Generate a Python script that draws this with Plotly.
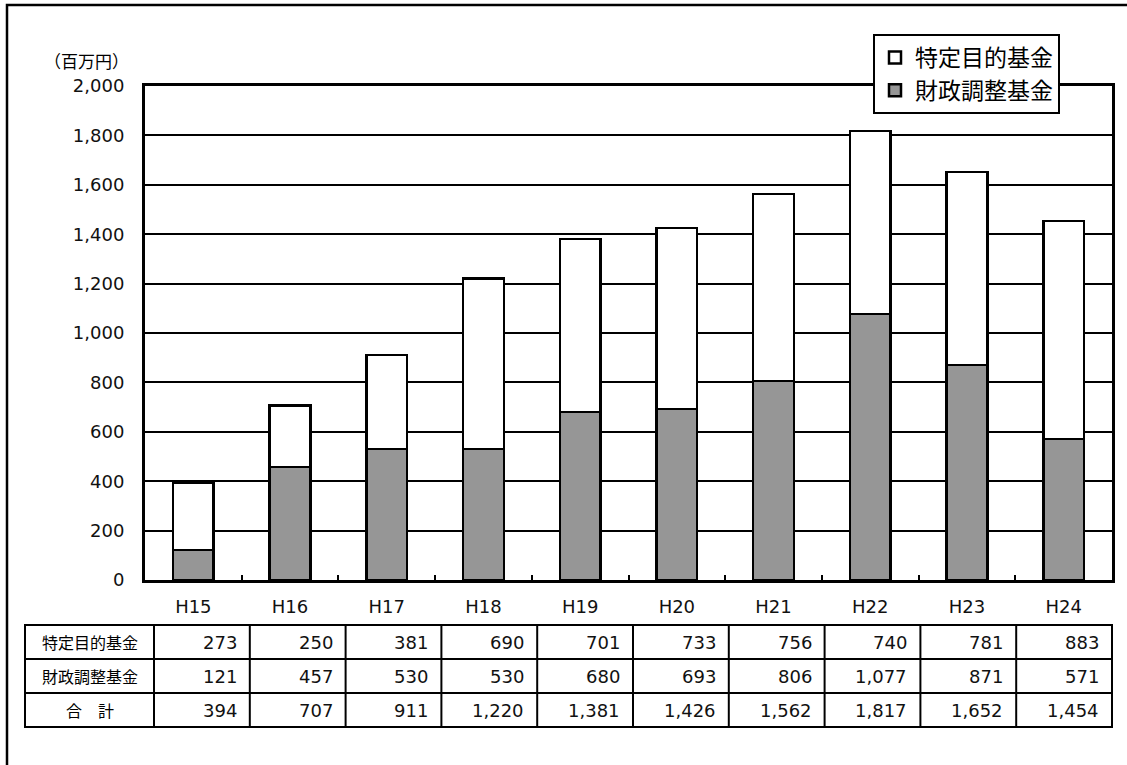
import plotly.graph_objects as go

categories = ["H15", "H16", "H17", "H18", "H19", "H20", "H21", "H22", "H23", "H24"]
tokutei = [273, 250, 381, 690, 701, 733, 756, 740, 781, 883]
zaisei = [121, 457, 530, 530, 680, 693, 806, 1077, 871, 571]
goukei = [394, 707, 911, 1220, 1381, 1426, 1562, 1817, 1652, 1454]
row_labels = ["特定目的基金", "財政調整基金", "合　計"]
y_ticks = [0, 200, 400, 600, 800, 1000, 1200, 1400, 1600, 1800, 2000]

W, H = 1127, 765
L, R, T, B = 145, 1112, 86, 580
FONT = "Noto Sans CJK JP"
NUMFONT = "DejaVu Sans"


def px(x):
    return (x - L) / (R - L)


def py(y):
    return (B - y) / (B - T)


fig = go.Figure()
fig.add_trace(go.Bar(
    x=categories, y=zaisei, name="財政調整基金",
    marker=dict(color="#969696", line=dict(color="black", width=2.5)),
))
fig.add_trace(go.Bar(
    x=categories, y=tokutei, name="特定目的基金",
    marker=dict(color="white", line=dict(color="black", width=2.5)),
))

shapes = []
annotations = []

# outer frame (only top/left visible)
shapes.append(dict(type="rect", xref="paper", yref="paper",
                   x0=px(7), x1=px(1140), y0=py(5), y1=py(780),
                   line=dict(color="black", width=2.5), fillcolor="rgba(0,0,0,0)", layer="below"))

# table
tx0, tx1 = 25, 154
tx_end = 1112
row_y = [625, 659, 693, 727]
ncol = len(categories)
colw = (tx_end - tx1) / ncol
shapes.append(dict(type="rect", xref="paper", yref="paper",
                   x0=px(tx0), x1=px(tx_end), y0=py(row_y[0]), y1=py(row_y[-1]),
                   line=dict(color="black", width=2)))
for ry in row_y[1:-1]:
    shapes.append(dict(type="line", xref="paper", yref="paper",
                       x0=px(tx0), x1=px(tx_end), y0=py(ry), y1=py(ry),
                       line=dict(color="black", width=2)))
for k in range(ncol):
    xx = tx1 + k * colw
    shapes.append(dict(type="line", xref="paper", yref="paper",
                       x0=px(xx), x1=px(xx), y0=py(row_y[0]), y1=py(row_y[-1]),
                       line=dict(color="black", width=2)))

rows = [tokutei, zaisei, goukei]
for r, (lab, vals) in enumerate(zip(row_labels, rows)):
    yc = (row_y[r] + row_y[r + 1]) / 2
    annotations.append(dict(xref="paper", yref="paper", x=px((tx0 + tx1) / 2), y=py(yc),
                            text=lab, showarrow=False, xanchor="center", yanchor="middle",
                            font=dict(family=FONT, size=16, color="black")))
    for k, v in enumerate(vals):
        xr = tx1 + (k + 1) * colw - 11
        annotations.append(dict(xref="paper", yref="paper", x=px(xr), y=py(yc),
                                text=f"{v:,}", showarrow=False, xanchor="right", yanchor="middle",
                                font=dict(family=NUMFONT, size=18, color="#111")))

# unit label
annotations.append(dict(xref="paper", yref="paper", x=px(42), y=py(61),
                        text="（百万円）", showarrow=False, xanchor="left", yanchor="middle",
                        font=dict(family=FONT, size=17, color="black")))

fig.update_layout(
    width=W, height=H,
    margin=dict(l=L, r=W - R, t=T, b=H - B, pad=0),
    paper_bgcolor="white", plot_bgcolor="white",
    barmode="stack", bargap=0.58,
    font=dict(family=FONT, color="black"),
    showlegend=True,
    legend=dict(x=px(873), y=py(34), xanchor="left", yanchor="top",
                bgcolor="white", bordercolor="black", borderwidth=2,
                font=dict(family=FONT, size=23, color="black"),
                itemwidth=30, tracegroupgap=0),
    shapes=shapes, annotations=annotations,
)
fig.update_yaxes(range=[0, 2000], tickvals=y_ticks, ticktext=[f"{v:,}" for v in y_ticks],
                 showgrid=True, gridcolor="black", gridwidth=2,
                 showline=True, linecolor="black", linewidth=3, mirror=True,
                 ticks="", ticklabelstandoff=14, zeroline=False,
                 tickfont=dict(family=NUMFONT, size=18, color="#111"))
fig.update_xaxes(showline=True, linecolor="black", linewidth=3, mirror=True,
                 ticks="inside", tickson="boundaries", ticklen=5, tickwidth=2, tickcolor="black",
                 ticklabelstandoff=8,
                 tickfont=dict(family=NUMFONT, size=18, color="#111"))

fig.write_html("out.html", post_script="document.body.style.margin='0';",
               config={"displayModeBar": False})
